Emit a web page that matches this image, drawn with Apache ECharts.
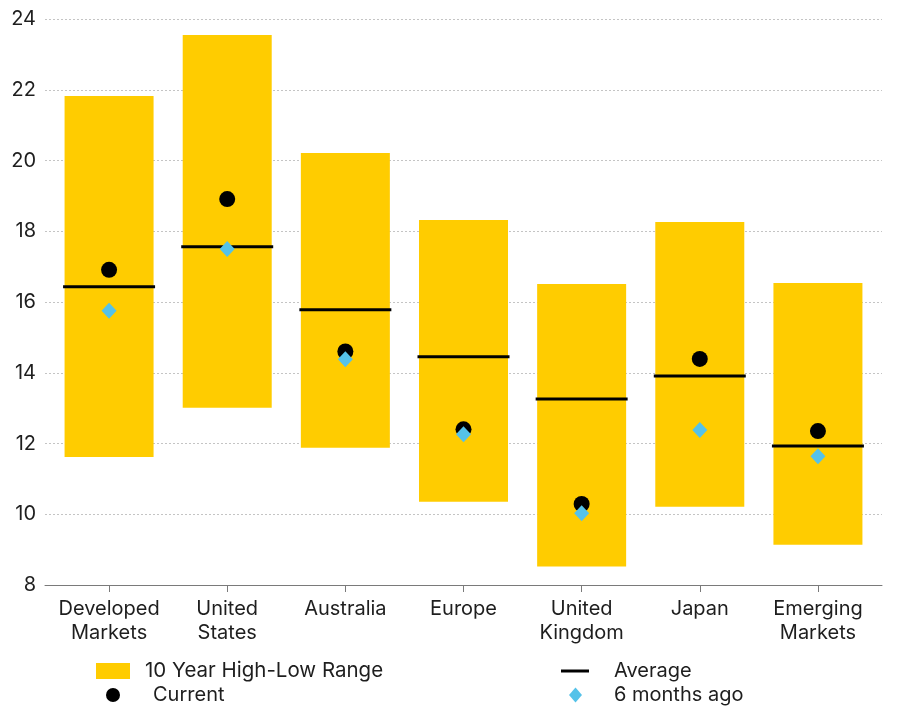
<!DOCTYPE html>
<html>
<head>
<meta charset="utf-8">
<script src="https://cdn.jsdelivr.net/npm/echarts@6/dist/echarts.min.js"></script>
<style>
  html, body { margin: 0; padding: 0; background: #ffffff; }
  #chart { width: 900px; height: 707px; }
</style>
</head>
<body>
<div id="chart"></div>
<script>
var categories = ['Developed\nMarkets', 'United\nStates', 'Australia', 'Europe', 'United\nKingdom', 'Japan', 'Emerging\nMarkets'];
var rangeLow  = [11.62, 13.01, 11.88, 10.35, 8.52, 10.21, 9.14];
var rangeHigh = [21.82, 23.55, 20.21, 18.32, 16.51, 18.26, 16.54];
var average   = [16.43, 17.56, 15.78, 14.45, 13.26, 13.91, 11.93];
var current   = [16.91, 18.91, 14.60, 12.40, 10.29, 14.39, 12.35];
var sixMonthsAgo = [15.75, 17.50, 14.38, 12.26, 10.03, 12.38, 11.64];
var yTicks = { min: 8, max: 24, interval: 2 };

var FONT = 'Inter, "Liberation Sans", sans-serif';
var YELLOW = '#ffcc00';
var BLUE = '#55c2e9';
var TEXT = '#1e1e1e';

var rangeSpan = rangeHigh.map(function (h, i) { return h - rangeLow[i]; });

function legendText(padLeft) {
  return { color: TEXT, fontSize: 20, lineHeight: 24, fontFamily: FONT, padding: [0, 0, 0, padLeft] };
}

var chart = echarts.init(document.getElementById('chart'), null, { renderer: 'canvas' });
chart.setOption({
  animation: false,
  backgroundColor: '#ffffff',
  textStyle: { fontFamily: FONT },
  grid: [
    { left: 45, right: 18, top: 19, height: 566 },
    { left: 50, right: 23, top: 19, height: 566 }
  ],
  xAxis: [
    {
      gridIndex: 0, type: 'category', data: [''],
      axisLine: { show: true, lineStyle: { color: '#7a7a7a', width: 1 } },
      axisTick: { show: false }, axisLabel: { show: false }, splitLine: { show: false }
    },
    {
      gridIndex: 1, type: 'category', data: categories,
      axisLine: { show: false },
      axisTick: { show: true, alignWithLabel: true, length: 7, lineStyle: { color: '#7a7a7a', width: 1 } },
      axisLabel: { color: TEXT, fontSize: 20, lineHeight: 24, margin: 12, fontFamily: FONT, interval: 0 },
      splitLine: { show: false }
    }
  ],
  yAxis: [
    {
      gridIndex: 0, type: 'value', min: yTicks.min, max: yTicks.max, interval: yTicks.interval,
      axisLine: { show: false }, axisTick: { show: false },
      axisLabel: { color: TEXT, fontSize: 20, margin: 9, fontFamily: FONT },
      splitLine: { show: true, lineStyle: { color: '#c4c4c4', type: [2, 2], width: 1 } }
    },
    {
      gridIndex: 1, type: 'value', min: yTicks.min, max: yTicks.max, interval: yTicks.interval,
      axisLine: { show: false }, axisTick: { show: false }, axisLabel: { show: false },
      splitLine: { show: false }
    }
  ],
  legend: [
    {
      data: [{ name: '10 Year High-Low Range', icon: 'rect' }],
      left: 96, top: 658, padding: 0, itemWidth: 34, itemHeight: 16,
      textStyle: { color: TEXT, fontSize: 20.5, lineHeight: 24, fontFamily: FONT, padding: [2, 0, 0, 10] },
      selectedMode: false
    },
    {
      data: [{ name: 'Current', icon: 'circle' }],
      left: 106, top: 683, padding: 0, itemWidth: 14, itemHeight: 14,
      textStyle: legendText(28), selectedMode: false
    },
    {
      data: [{ name: 'Average', icon: 'rect' }],
      left: 561, top: 659, padding: 0, itemWidth: 28, itemHeight: 3,
      textStyle: legendText(20), selectedMode: false
    },
    {
      data: [{ name: '6 months ago', icon: 'diamond' }],
      left: 569, top: 683, padding: 0, itemWidth: 13, itemHeight: 15,
      textStyle: legendText(27), selectedMode: false
    }
  ],
  series: [
    {
      name: 'base', type: 'bar', stack: 'range', xAxisIndex: 1, yAxisIndex: 1,
      data: rangeLow, barWidth: 89, silent: true,
      itemStyle: { color: 'rgba(0,0,0,0)' }, z: 2
    },
    {
      name: '10 Year High-Low Range', type: 'bar', stack: 'range', xAxisIndex: 1, yAxisIndex: 1,
      data: rangeSpan, barWidth: 89,
      itemStyle: { color: YELLOW, opacity: 1 }, z: 2
    },
    {
      name: 'Average', type: 'scatter', xAxisIndex: 1, yAxisIndex: 1,
      data: average, symbol: 'rect', symbolSize: [92, 3],
      itemStyle: { color: '#000000', opacity: 1 }, z: 3
    },
    {
      name: 'Current', type: 'scatter', xAxisIndex: 1, yAxisIndex: 1,
      data: current, symbol: 'circle', symbolSize: 16,
      itemStyle: { color: '#000000', opacity: 1 }, z: 4
    },
    {
      name: '6 months ago', type: 'scatter', xAxisIndex: 1, yAxisIndex: 1,
      data: sixMonthsAgo, symbol: 'diamond', symbolSize: [15, 16],
      itemStyle: { color: BLUE, opacity: 1 }, z: 5
    }
  ]
});
</script>
</body>
</html>
